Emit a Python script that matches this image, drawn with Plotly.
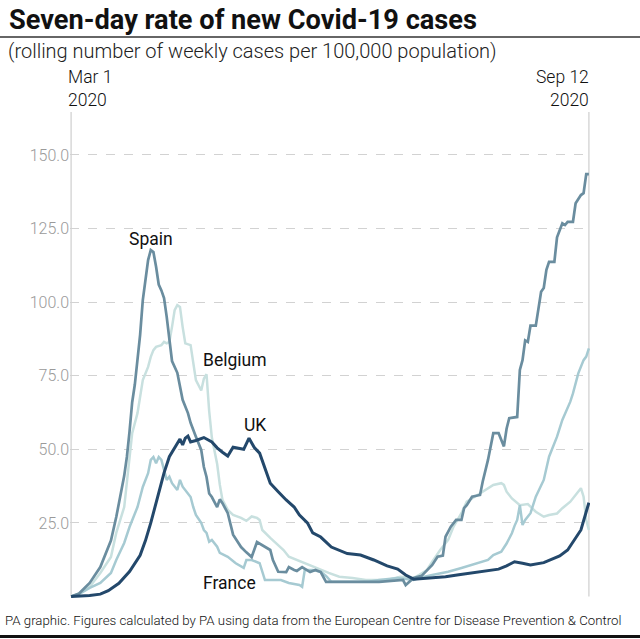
import plotly.graph_objects as go
import pandas as pd

START = "2020-03-01"
END = "2020-09-12"

uk_days = [0, 7, 11, 14, 18, 22, 26, 28, 30, 32, 35, 37, 39, 41, 42, 43, 44, 45, 47, 50, 53, 55, 57, 59, 61, 64, 65, 67, 69, 71, 73, 75, 78, 81, 84, 86, 89, 91, 94, 98, 104, 109, 114, 119, 123, 126, 129, 131, 137, 141, 146, 151, 156, 161, 164, 167, 170, 173, 178, 181, 184, 187, 189, 192, 195]
uk_vals = [0, 0.3, 0.8, 2, 4.5, 8.5, 14, 19, 25, 32, 42, 47.5, 50.5, 53.5, 51.5, 53.8, 54.5, 52.5, 53, 54, 52.5, 50.5, 49, 47.7, 50.7, 50.3, 50, 53.8, 50.6, 48.7, 43.6, 38.5, 35.6, 32.8, 30.4, 27.7, 25, 21.6, 20.2, 16.8, 14.6, 14.1, 12.4, 10.4, 9.3, 7.3, 5.9, 6, 6.4, 6.7, 7.4, 8.1, 8.7, 9.3, 10.4, 11.8, 11.3, 10.7, 11.5, 12.6, 13.8, 15.8, 18.6, 22.6, 31.9]

spain_days = [0, 3, 7, 11, 15, 17, 20, 21, 22, 23, 24, 25, 26, 27, 28, 29, 30, 31, 32, 33, 34, 35, 36, 37, 38, 40, 41, 42, 44, 45, 47, 49, 50, 51, 52, 53, 55, 56, 57, 59, 61, 64, 66, 68, 70, 72, 75, 76, 78, 81, 82, 84, 85, 87, 90, 92, 94, 96, 101, 108, 116, 125, 126, 129, 132, 136, 138, 140, 141, 143, 145, 147, 148, 149, 151, 154, 155, 157, 158, 159, 161, 163, 164, 165, 168, 169, 170, 171, 172, 173, 175, 176, 177, 178, 179, 180, 182, 183, 185, 186, 187, 189, 190, 192, 193, 194, 195]
spain_vals = [0, 1, 4.6, 10, 19, 27, 41, 47.4, 56, 66, 72, 79.5, 89, 100.7, 108.6, 114.3, 117.7, 117, 112, 106, 104, 101.4, 95, 87, 80, 76, 71, 66.8, 62.3, 59, 54.3, 49.8, 44, 40.6, 35, 33.8, 30.4, 33, 31.7, 28.3, 21, 16.8, 15, 13.4, 18.5, 17.5, 15.8, 12.4, 8.4, 8.3, 10, 9, 8.7, 10, 8.3, 9, 8.3, 5, 5, 4.8, 5, 5.6, 3.9, 6.3, 7, 10.7, 13.5, 13.9, 20.3, 23.7, 26, 26, 30, 31, 33.9, 34.5, 39, 46.4, 50.9, 55.5, 55.5, 51, 57, 60.6, 61, 77, 80.3, 87, 86.5, 92, 92, 98.4, 103.5, 104.8, 111, 113.7, 113.7, 122, 126.8, 126.2, 127.3, 127.3, 133.6, 136.4, 137, 143.5, 143.5]

belgium_days = [0, 3, 7, 11, 15, 17, 20, 21, 22, 23, 25, 26, 27, 29, 30, 31, 32, 34, 35, 36, 37, 38, 39, 40, 41, 42, 43, 45, 46, 47, 49, 50, 51, 52, 53, 55, 56, 57, 59, 61, 64, 66, 68, 70, 71, 72, 75, 77, 80, 82, 86, 90, 94, 97, 101, 106, 111, 119, 124, 129, 131, 134, 136, 139, 142, 144, 147, 149, 151, 154, 157, 159, 162, 163, 164, 166, 169, 172, 173, 175, 178, 180, 183, 185, 188, 190, 192, 193, 194, 195]
belgium_vals = [0, 1, 3.3, 8, 13.4, 21.6, 30.4, 39.6, 47.4, 55.5, 62.3, 67.8, 73.5, 78, 81.4, 83.7, 84.8, 85.4, 86.5, 86, 86.5, 91.6, 97.3, 99, 98.4, 91.6, 86, 85.4, 79.3, 73.5, 70, 74, 75.5, 63, 54, 45, 38, 32.8, 29.4, 27.7, 26.7, 25.7, 27.2, 26.7, 26, 22.6, 19.9, 18.2, 15.8, 13.5, 12, 10.4, 9, 8, 6.7, 6.3, 5.6, 5.6, 6.7, 6.3, 7.3, 9, 11.8, 15.8, 19.2, 23.7, 28.3, 32.2, 33.3, 35, 36.8, 37.9, 38.5, 37.9, 35.6, 33.3, 31, 31.4, 30.5, 28.8, 27.1, 27.7, 28.2, 30, 32.2, 34.5, 36.8, 33.9, 26, 22.6]

france_days = [0, 3, 7, 11, 15, 17, 20, 22, 25, 27, 29, 30, 31, 32, 33, 34, 35, 36, 37, 38, 40, 41, 42, 44, 45, 46, 47, 49, 50, 51, 52, 53, 55, 56, 59, 62, 65, 66, 68, 71, 73, 76, 79, 82, 86, 87, 88, 91, 94, 96, 98, 104, 112, 116, 123, 129, 131, 136, 142, 147, 151, 157, 159, 162, 164, 166, 167, 168, 169, 170, 171, 173, 175, 178, 180, 183, 185, 187, 188, 189, 190, 191, 193, 194, 195]
france_vals = [0, 0.8, 2.9, 4.6, 8, 12.4, 18.2, 23.6, 30.4, 37.2, 41.9, 46.4, 47.4, 45.3, 47.4, 46.4, 43, 39.6, 40.7, 38.5, 36.2, 39.6, 37.3, 35, 33.8, 30.4, 27.7, 25, 22.6, 21.6, 18.6, 19.2, 16.9, 14.8, 13.5, 11.3, 9.7, 12.4, 12.4, 11.3, 5.6, 5.6, 5.6, 4.6, 3.9, 3.3, 9, 9, 8.4, 7, 5, 5, 5, 5.6, 6.3, 5.6, 6.3, 7.3, 8.4, 9.7, 10.7, 12.4, 14.1, 15.2, 18, 21.5, 24, 26, 31, 24.3, 26, 28.3, 33.9, 39.6, 47.5, 54.3, 60, 64, 66.2, 69, 72.4, 75.8, 80.3, 81.5, 84.3]

y_ticks = [25, 50, 75, 100, 125, 150]
y_ticktext = ["25.0", "50.0", "75.0", "100.0", "125.0", "150.0"]

# country label positions (day offset, value)
labels = [("Spain", 30, 121.4), ("Belgium", 61.7, 80.3), ("UK", 69.3, 58.3), ("France", 59.7, 4.6)]

start = pd.Timestamp(START)
end = pd.Timestamp(END)


def to_dates(days):
    return [start + pd.Timedelta(days=d) for d in days]


W, H = 640, 639
ML, MR, MT, MB = 70, 50, 112, 40
PW, PH = W - ML - MR, H - MT - MB


def px(x):
    return (x - ML) / PW


def py(y):
    return (H - MB - y) / PH


FONT = "Roboto"
series = [
    ("Belgium", belgium_days, belgium_vals, "#c8e0df", 2.5),
    ("France", france_days, france_vals, "#a6cad2", 2.5),
    ("Spain", spain_days, spain_vals, "#6a8d9f", 2.7),
    ("UK", uk_days, uk_vals, "#23486b", 3),
]

fig = go.Figure()
for name, d, v, c, w in series:
    fig.add_trace(go.Scatter(x=to_dates(d), y=v, mode="lines", name=name,
                             line=dict(color=c, width=w), hoverinfo="skip"))

for name, dx, vy in labels:
    fig.add_annotation(x=start + pd.Timedelta(days=dx), y=vy, text=name, showarrow=False,
                       xref="x", yref="y", font=dict(family=FONT, size=17.5, color="#111"))

# vertical boundary lines
for dt in (start, end):
    fig.add_shape(type="line", xref="x", yref="paper", x0=dt, x1=dt, y0=py(596.5), y1=1,
                  line=dict(color="#d8d8d8", width=1.5), layer="below")

# rules
fig.add_shape(type="line", xref="paper", yref="paper", x0=px(0), x1=px(640), y0=py(37), y1=py(37),
              line=dict(color="#333", width=1.5))
fig.add_shape(type="line", xref="paper", yref="paper", x0=px(0), x1=px(640), y0=py(636.5), y1=py(636.5),
              line=dict(color="#111", width=3))

fig.add_annotation(xref="paper", yref="paper", x=px(7), y=py(20), xanchor="left", yanchor="middle",
                   text="<b>Seven-day rate of new Covid-19 cases</b>", showarrow=False,
                   font=dict(family=FONT, size=27.2, color="#111"))
fig.add_annotation(xref="paper", yref="paper", x=px(6), y=py(51), xanchor="left", yanchor="middle",
                   text="(rolling number of weekly cases per 100,000 population)", showarrow=False,
                   font=dict(family=FONT, size=20, color="#222", weight=300))
fig.add_annotation(xref="paper", yref="paper", x=px(66), y=py(89), xanchor="left", yanchor="middle",
                   text="Mar 1<br>2020", showarrow=False, align="left",
                   font=dict(family=FONT, size=17.5, color="#111", weight=300))
fig.add_annotation(xref="paper", yref="paper", x=px(591), y=py(89), xanchor="right", yanchor="middle",
                   text="Sep 12<br>2020", showarrow=False, align="right",
                   font=dict(family=FONT, size=17.5, color="#111", weight=300))
fig.add_annotation(xref="paper", yref="paper", x=px(3), y=py(620), xanchor="left", yanchor="middle",
                   text="PA graphic. Figures calculated by PA using data from the European Centre for Disease Prevention &amp; Control",
                   showarrow=False, font=dict(family=FONT, size=13.25, color="#111", weight=300))

fig.update_layout(
    width=W, height=H, margin=dict(l=ML, r=MR, t=MT, b=MB),
    paper_bgcolor="white", plot_bgcolor="white", showlegend=False,
    xaxis=dict(type="date", range=[start - pd.Timedelta(hours=10), end + pd.Timedelta(hours=10)],
               showgrid=False, showticklabels=False, zeroline=False, showline=False, ticks=""),
    yaxis=dict(range=[-0.85, 164.6], tickvals=y_ticks, ticktext=y_ticktext,
               showgrid=True, gridcolor="#d2d2d2", griddash="dash", gridwidth=1.3,
               zeroline=False, showline=False, ticks="",
               tickfont=dict(family=FONT, size=16, color="#9a9a9a", weight=300)),
)

fig.write_html("out.html")
